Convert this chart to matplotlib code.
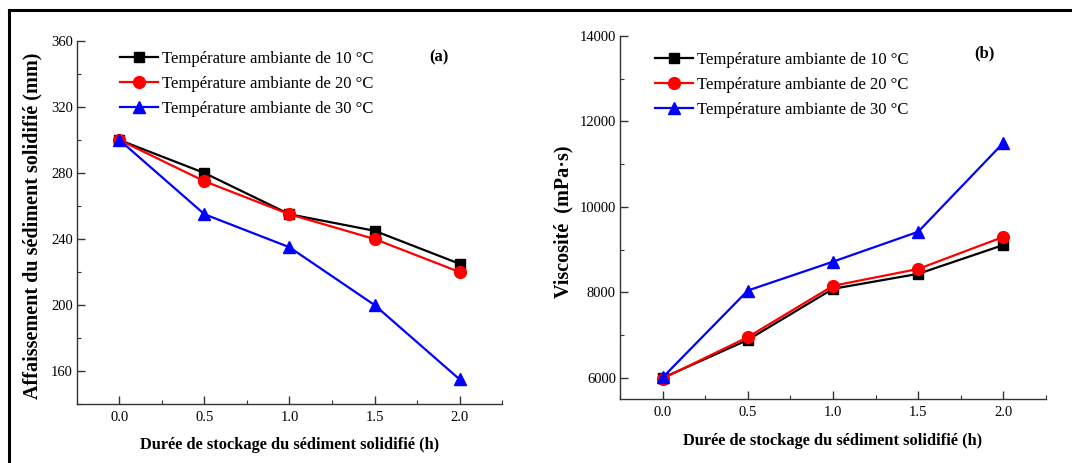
import matplotlib
matplotlib.use('Agg')
import matplotlib.pyplot as plt
from matplotlib.lines import Line2D
from matplotlib.ticker import MultipleLocator

plt.rcParams['font.family'] = ['Liberation Serif', 'DejaVu Serif']
plt.rcParams['mathtext.fontset'] = 'stix'

# durée de stockage (h)
durees = [0.0, 0.5, 1.0, 1.5, 2.0]
legendes = ['Température ambiante de 10 °C',
            'Température ambiante de 20 °C',
            'Température ambiante de 30 °C']

# (a) affaissement (mm)
affaissement_10 = [300, 280, 255, 245, 225]
affaissement_20 = [300, 275, 255, 240, 220]
affaissement_30 = [300, 255, 235, 200, 155]

# (b) viscosité (mPa·s)
viscosite_10 = [6000, 6890, 8085, 8435, 9110]
viscosite_20 = [5985, 6955, 8155, 8550, 9300]
viscosite_30 = [6010, 8045, 8720, 9420, 11500]

styles = [dict(color='black', marker='s', markersize=7.5),
          dict(color='red', marker='o', markersize=8.5),
          dict(color='blue', marker='^', markersize=9)]

fig = plt.figure(figsize=(10.72, 4.63), dpi=100)
ax1 = fig.add_axes([0.0718, 0.1274, 0.3965, 0.784])
ax2 = fig.add_axes([0.5784, 0.1376, 0.3973, 0.7846])


def tracer(ax, series, ylim, ymaj, ymin, lettre, lettre_xy, ylabel, ylab_x, xlab_y, leg_xy):
    for valeurs, nom, st in zip(series, legendes, styles):
        ax.plot(durees, valeurs, linewidth=1.6, label=nom, clip_on=False, **st)
    ax.set_xlim(-0.25, 2.25)
    ax.set_ylim(*ylim)
    ax.xaxis.set_major_locator(MultipleLocator(0.5))
    ax.xaxis.set_minor_locator(MultipleLocator(0.25))
    ax.yaxis.set_major_locator(MultipleLocator(ymaj))
    ax.yaxis.set_minor_locator(MultipleLocator(ymin))
    ax.set_xticks(durees)
    ax.set_xticklabels([f'{d:.1f}' for d in durees])
    for s in ['top', 'right']:
        ax.spines[s].set_visible(False)
    for s in ['left', 'bottom']:
        ax.spines[s].set_color('#333333')
        ax.spines[s].set_linewidth(1.0)
    ax.tick_params(axis='both', which='major', direction='in', length=6, width=1,
                   labelsize=10.5, color='#333333')
    ax.tick_params(axis='both', which='minor', direction='in', length=3, width=0.8,
                   color='#333333')
    ax.tick_params(axis='x', which='major', pad=5)
    ax.tick_params(axis='y', which='major', pad=3)
    ax.set_xlabel('Durée de stockage du sédiment solidifié (h)', fontsize=11.8,
                  fontweight='bold')
    ax.xaxis.set_label_coords(0.5, xlab_y)
    ax.set_ylabel(ylabel, fontsize=14.5, fontweight='bold')
    ax.yaxis.set_label_coords(ylab_x, 0.49)
    ax.text(lettre_xy[0], lettre_xy[1], lettre, fontsize=12, fontweight='bold',
            ha='center', va='center')
    ax.legend(loc='upper left', bbox_to_anchor=leg_xy, frameon=False, fontsize=12,
              handlelength=2.3, handletextpad=0.2, labelspacing=0.53,
              borderpad=0, borderaxespad=0)


tracer(ax1, [affaissement_10, affaissement_20, affaissement_30], (140, 360), 40, 20,
       '(a)', (1.88, 350), 'Affaissement du sédiment solidifié (mm)', -0.082, -0.091,
       (0.101, 0.972))
tracer(ax2, [viscosite_10, viscosite_20, viscosite_30], (5500, 14000), 2000, 1000,
       '(b)', (1.886, 13600), 'Viscosité  (mPa·s)', -0.11, -0.094,
       (0.082, 0.956))

# cadre extérieur (haut et gauche)
fig.add_artist(Line2D([0.008, 1.0], [0.978, 0.978], color='black', linewidth=2.2,
                      transform=fig.transFigure))
fig.add_artist(Line2D([0.008, 0.008], [0.0, 0.978], color='black', linewidth=2.2,
                      transform=fig.transFigure))

fig.savefig('out.png', dpi=100)
